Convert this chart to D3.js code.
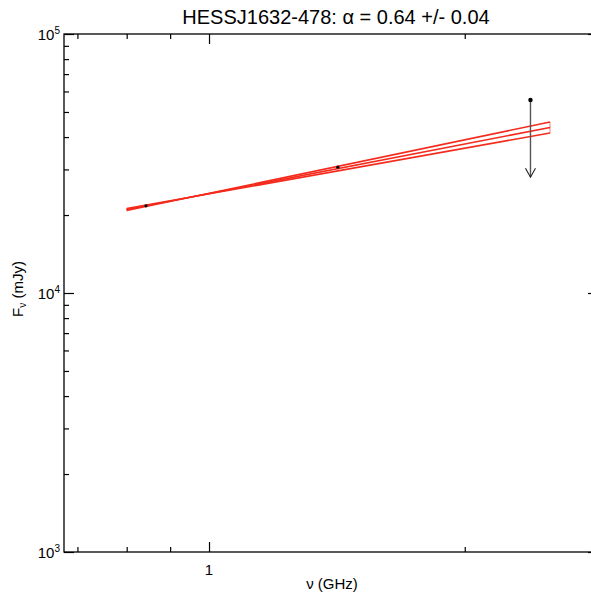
<!DOCTYPE html>
<html>
<head>
<meta charset="utf-8">
<script src="https://cdn.jsdelivr.net/npm/d3@7"></script>
<style>
  body { margin: 0; background: #fff; }
  svg { display: block; font-family: "Liberation Sans", Arial, Helvetica, sans-serif; }
</style>
</head>
<body>
<svg id="chart" width="591" height="595"></svg>
<script>
// ---- data ----
const title = "HESSJ1632-478: \u03b1 = 0.64 +/- 0.04";
const xLabel = "\u03bd (GHz)";
const yLabel = "F";
const yLabelSub = "\u03bd";
const yLabelTail = " (mJy)";

// measured points (GHz, mJy)
const pointNu = [0.843, 1.418];
const pointFlux = [21700, 30600];
// upper limit (GHz, mJy) and arrow tip flux
const limitNu = [2.39];
const limitFlux = [55600];
const limitArrowTo = [28000];

// fitted power-law band: frequencies of the ends, flux at both ends
const fitNu = [0.80, 2.52];
const fitCentral = [21010, 43540];
const fitSteep = [20820, 45750];
const fitShallow = [21180, 41490];

// axes
const xDomain = [0.675, 2.87];
const yDomain = [1e3, 1e5];
const xMajorTicks = [1];
const xMajorLabels = ["1"];
const xMinorTicks = [0.7, 0.8, 0.9, 2];
const yMajorTicks = [1e3, 1e4, 1e5];
const yMajorExp = ["3", "4", "5"];
const yMinorTicks = [2e3,3e3,4e3,5e3,6e3,7e3,8e3,9e3,2e4,3e4,4e4,5e4,6e4,7e4,8e4,9e4];

// ---- layout ----
const L = 64, R = 598, T = 34, B = 552;
const svg = d3.select("#chart");
const x = d3.scaleLog().domain(xDomain).range([L, R]);
const y = d3.scaleLog().domain(yDomain).range([B, T]);

const red = "#f42a1c";

// fit band
const g = svg.append("g");
const steep = fitNu.map((n, i) => [x(n), y(fitSteep[i])]);
const shallow = fitNu.map((n, i) => [x(n), y(fitShallow[i])]);
const central = fitNu.map((n, i) => [x(n), y(fitCentral[i])]);
const line = d3.line();
[steep, shallow, central].forEach((pts) => {
  g.append("path").attr("d", line(pts))
    .attr("fill", "none").attr("stroke", red).attr("stroke-width", 1.6);
});
g.append("path").attr("d", line([steep[0], shallow[0]]))
  .attr("fill", "none").attr("stroke", red).attr("stroke-opacity", 0.6).attr("stroke-width", 1);
g.append("path").attr("d", line([steep[1], shallow[1]]))
  .attr("fill", "none").attr("stroke", red).attr("stroke-opacity", 0.6).attr("stroke-width", 1);

// points
svg.append("g").selectAll("circle").data(pointNu).join("circle")
  .attr("cx", (d) => x(d)).attr("cy", (d, i) => y(pointFlux[i])).attr("r", 1.6).attr("fill", "#000");

// upper limit
limitNu.forEach((n, i) => {
  const cx = x(n), cy = y(limitFlux[i]), ty = y(limitArrowTo[i]);
  svg.append("line").attr("x1", cx).attr("x2", cx).attr("y1", cy).attr("y2", ty)
    .attr("stroke", "#555").attr("stroke-width", 1.4);
  svg.append("path").attr("d", `M${cx-5},${ty-9}L${cx},${ty}L${cx+5},${ty-9}`)
    .attr("fill", "none").attr("stroke", "#222").attr("stroke-width", 1.1);
  svg.append("circle").attr("cx", cx).attr("cy", cy).attr("r", 2.2).attr("fill", "#000");
});

// axes
function styleAxis(sel) {
  sel.selectAll(".domain").remove();
  sel.selectAll(".tick text").remove();
  sel.selectAll(".tick line").attr("stroke", "#000").attr("stroke-width", 1.2);
}
svg.append("g").attr("transform", `translate(0,${B})`)
  .call(d3.axisBottom(x).tickValues(xMajorTicks).tickSize(-10).tickSizeOuter(0)).call(styleAxis);
svg.append("g").attr("transform", `translate(0,${B})`)
  .call(d3.axisBottom(x).tickValues(xMinorTicks).tickSize(-5).tickSizeOuter(0)).call(styleAxis);
svg.append("g").attr("transform", `translate(0,${T})`)
  .call(d3.axisTop(x).tickValues(xMajorTicks).tickSize(-10).tickSizeOuter(0)).call(styleAxis);
svg.append("g").attr("transform", `translate(0,${T})`)
  .call(d3.axisTop(x).tickValues(xMinorTicks).tickSize(-5).tickSizeOuter(0)).call(styleAxis);
svg.append("g").attr("transform", `translate(${L},0)`)
  .call(d3.axisLeft(y).tickValues(yMajorTicks).tickSize(-10).tickSizeOuter(0)).call(styleAxis);
svg.append("g").attr("transform", `translate(${L},0)`)
  .call(d3.axisLeft(y).tickValues(yMinorTicks).tickSize(-5).tickSizeOuter(0)).call(styleAxis);
svg.append("g").attr("transform", `translate(${R},0)`)
  .call(d3.axisRight(y).tickValues(yMajorTicks).tickSize(-10).tickSizeOuter(0)).call(styleAxis);
svg.append("g").attr("transform", `translate(${R},0)`)
  .call(d3.axisRight(y).tickValues(yMinorTicks).tickSize(-5).tickSizeOuter(0)).call(styleAxis);

// frame
svg.append("rect").attr("x", L).attr("y", T).attr("width", R - L).attr("height", B - T)
  .attr("fill", "none").attr("stroke", "#000").attr("stroke-width", 1.3);

// x tick labels
svg.append("g").selectAll("text").data(xMajorTicks).join("text")
  .attr("x", (d) => x(d)).attr("y", B + 23).attr("text-anchor", "middle")
  .attr("font-size", 15).text((d, i) => xMajorLabels[i]);

// y tick labels
const yl = svg.append("g").selectAll("text").data(yMajorTicks).join("text")
  .attr("x", L - 4).attr("y", (d) => y(d) + 6).attr("text-anchor", "end").attr("font-size", 15);
yl.append("tspan").text("10");
yl.append("tspan").attr("dy", -6).attr("font-size", 10).text((d, i) => yMajorExp[i]);

// title
svg.append("text").attr("x", 336).attr("y", 24).attr("text-anchor", "middle")
  .attr("font-size", 20).text(title);

// x label
svg.append("text").attr("x", 332).attr("y", 589).attr("text-anchor", "middle")
  .attr("font-size", 15).text(xLabel);

// y label
const yt = svg.append("text").attr("transform", `translate(23,289) rotate(-90)`)
  .attr("text-anchor", "middle").attr("font-size", 15);
yt.append("tspan").text(yLabel);
yt.append("tspan").attr("dy", 3).attr("font-size", 10).text(yLabelSub);
yt.append("tspan").attr("dy", -3).text(yLabelTail);
</script>
</body>
</html>
